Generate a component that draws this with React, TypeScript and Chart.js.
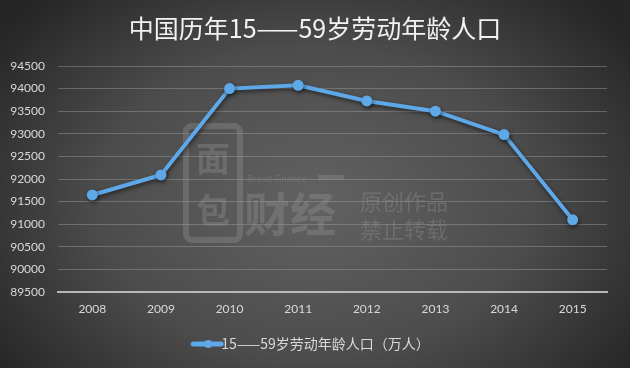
import React, { useEffect, useRef } from "react";
import { Chart, registerables } from "chart.js";

Chart.register(...registerables);

const titleText = "中国历年15——59岁劳动年龄人口";
const seriesLabel = "15——59岁劳动年龄人口（万人）";
const years = ["2008", "2009", "2010", "2011", "2012", "2013", "2014", "2015"];
const population = [91647, 92090, 94000, 94072, 93727, 93500, 92982, 91096];
const yMin = 89500;
const yMax = 94500;
const yStep = 500;

const LINE_COLOR = "#5ea8e8";

const bgPlugin = {
  id: "bgGradient",
  beforeDraw(chart: any) {
    const { ctx, width, height } = chart;
    ctx.save();
    ctx.fillStyle = "#2a2a2a";
    ctx.fillRect(0, 0, width, height);
    ctx.translate(width / 2, height * 0.55);
    ctx.scale(1, 0.72);
    const g = ctx.createRadialGradient(0, 0, 0, 0, 0, width * 0.62);
    g.addColorStop(0, "#626262");
    g.addColorStop(0.55, "#4c4c4c");
    g.addColorStop(1, "#262626");
    ctx.fillStyle = g;
    ctx.fillRect(-width, -height * 2, width * 2, height * 4);
    ctx.restore();
  },
};

const watermarkPlugin = {
  id: "watermark",
  beforeDatasetsDraw(chart: any) {
    const { ctx } = chart;
    ctx.save();
    ctx.strokeStyle = "rgba(150,150,150,0.35)";
    ctx.fillStyle = "rgba(150,150,150,0.35)";
    ctx.lineWidth = 6;
    ctx.beginPath();
    ctx.roundRect(186, 126, 54, 114, 6);
    ctx.stroke();
    ctx.font = "bold 34px 'Noto Sans CJK SC'";
    ctx.textAlign = "center";
    ctx.textBaseline = "middle";
    ctx.fillText("面", 213, 158);
    ctx.fillText("包", 213, 210);
    ctx.font = "bold 46px 'Noto Sans CJK SC'";
    ctx.textAlign = "left";
    ctx.fillText("财经", 244, 214);
    ctx.fillRect(318, 175, 26, 5);
    ctx.font = "9px 'Open Sans'";
    ctx.fillText("Bread Finance", 247, 179);
    ctx.font = "22px 'Noto Sans CJK SC'";
    ctx.fillText("原创作品", 360, 202);
    ctx.fillText("禁止转载", 360, 230);
    ctx.restore();
    ctx.save();
    ctx.shadowColor = "rgba(0,0,0,0.55)";
    ctx.shadowBlur = 4;
    ctx.shadowOffsetX = 1;
    ctx.shadowOffsetY = 2;
  },
  afterDatasetsDraw(chart: any) {
    chart.ctx.restore();
  },
};

function makeLegendMarker() {
  const c = document.createElement("canvas");
  c.width = 34;
  c.height = 12;
  const x = c.getContext("2d")!;
  x.strokeStyle = LINE_COLOR;
  x.lineWidth = 5;
  x.lineCap = "round";
  x.beginPath();
  x.moveTo(3, 6);
  x.lineTo(31, 6);
  x.stroke();
  x.fillStyle = LINE_COLOR;
  x.beginPath();
  x.arc(18, 6, 4, 0, Math.PI * 2);
  x.fill();
  return c;
}

export default function App() {
  const ref = useRef<HTMLCanvasElement>(null);
  useEffect(() => {
    if (!ref.current) return;
    const marker = makeLegendMarker();
    const chart = new Chart(ref.current, {
      type: "line",
      data: {
        labels: years,
        datasets: [
          {
            label: seriesLabel,
            data: population,
            borderColor: LINE_COLOR,
            backgroundColor: LINE_COLOR,
            borderWidth: 4,
            pointRadius: 5.5,
            pointHoverRadius: 5.5,
            pointBorderWidth: 0,
            pointBackgroundColor: LINE_COLOR,
            pointBorderColor: LINE_COLOR,
            tension: 0,
          },
        ],
      },
      options: {
        responsive: false,
        animation: false,
        layout: { padding: { left: 0, right: 0, top: 0, bottom: 7 } },
        plugins: {
          title: {
            display: true,
            text: titleText,
            color: "#f2f2f2",
            font: { family: "'Noto Sans CJK SC'", size: 25, weight: "normal" },
            padding: { top: 13, bottom: 23 },
          },
          legend: {
            display: true,
            position: "bottom",
            labels: {
              usePointStyle: true,
              pointStyle: marker as any,
              color: "#d9d9d9",
              font: { family: "'Noto Sans CJK SC'", size: 14 },
              padding: 10,
            },
          },
          tooltip: { enabled: false },
        },
        scales: {
          x: {
            offset: true,
            grid: { display: false, drawTicks: false },
            border: { display: true, color: "#b8b8b8", width: 2 },
            ticks: {
              color: "#d9d9d9",
              font: { family: "Lato", size: 12 },
              padding: 10,
            },
            afterFit(scale: any) {
              scale.height = 35;
            },
          },
          y: {
            min: yMin,
            max: yMax,
            grid: { color: "rgba(160,160,160,0.45)", lineWidth: 1, drawTicks: false },
            border: { display: false },
            ticks: {
              stepSize: yStep,
              color: "#d9d9d9",
              font: { family: "Lato", size: 12 },
              padding: 13,
              callback: (v: any) => String(v),
            },
            afterFit(scale: any) {
              scale.width = 58;
            },
          },
          yRight: {
            position: "right",
            min: yMin,
            max: yMax,
            grid: { display: false, drawOnChartArea: false, drawTicks: false },
            border: { display: false },
            ticks: { display: false },
            afterFit(scale: any) {
              scale.width = 23;
            },
          },
        },
      },
      plugins: [bgPlugin, watermarkPlugin],
    });
    return () => chart.destroy();
  }, []);
  return (
    <div style={{ position: "fixed", left: 0, top: 0, width: 630, height: 368 }}>
      <canvas ref={ref} width={630} height={368} style={{ display: "block" }} />
    </div>
  );
}
